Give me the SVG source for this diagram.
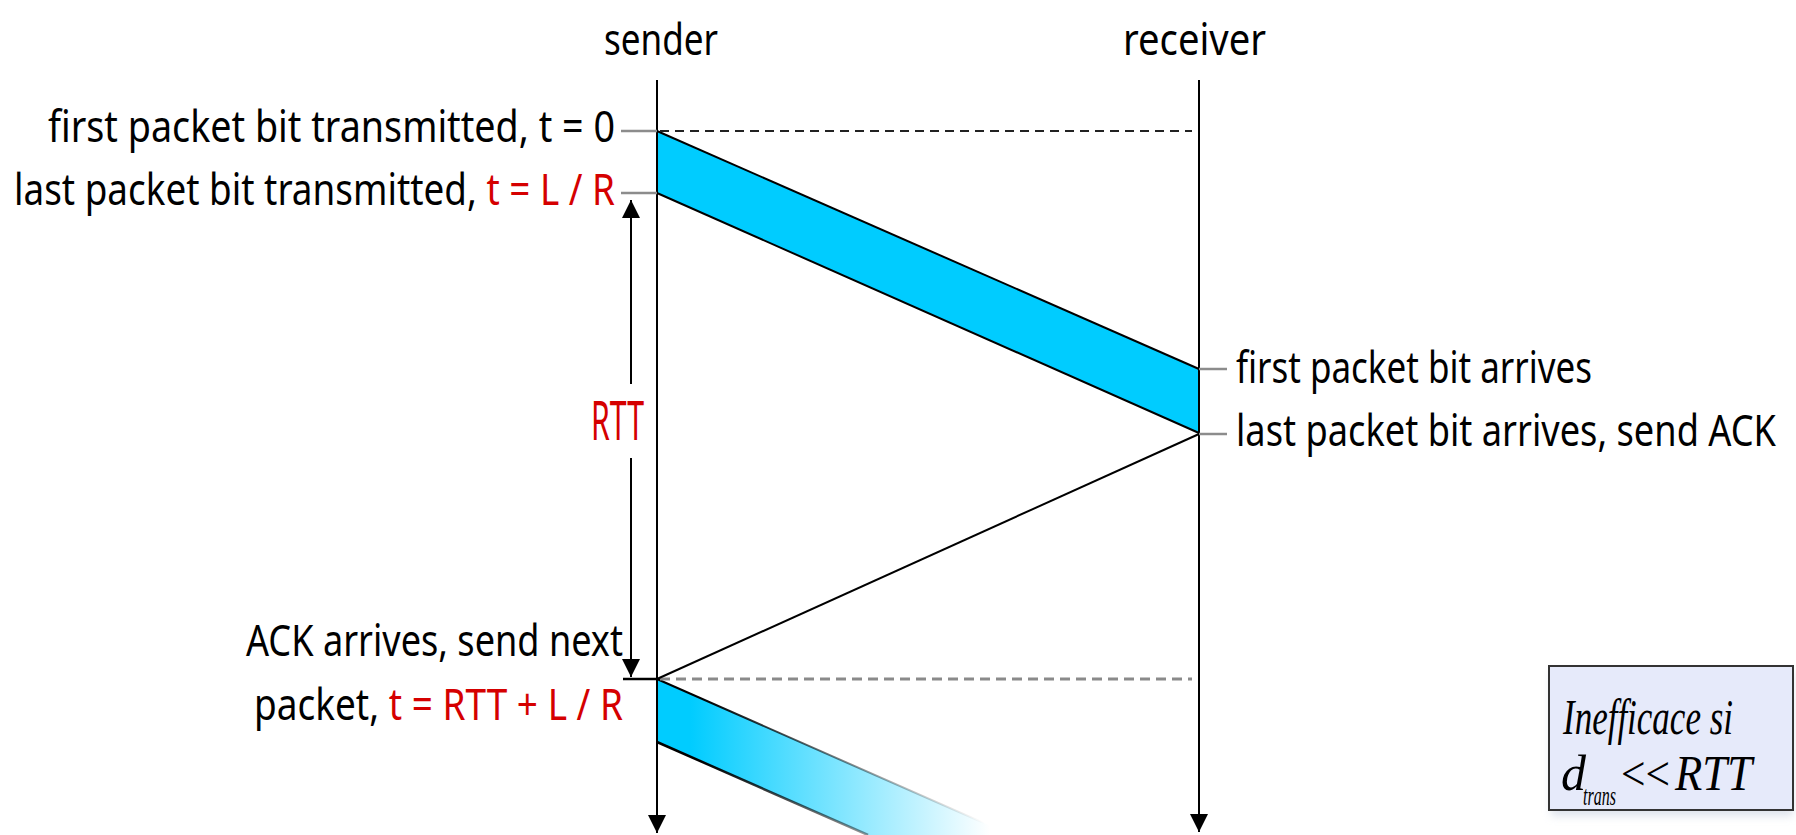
<svg xmlns="http://www.w3.org/2000/svg" width="1796" height="835" viewBox="0 0 1796 835">
  <style>
    .lbl { font-family: "Noto Sans", "DejaVu Sans", sans-serif; font-size: 44px; fill: #000; }
    .big { font-size: 54px; }
    .red { fill: #d50000; }
    .life { stroke: #000; stroke-width: 2; fill: none; }
    .tick { stroke: #8c8c8c; stroke-width: 2.5; }
    .edge { stroke: #000; stroke-width: 2; fill: none; }
    .math { font-family: "Liberation Serif", "DejaVu Serif", serif; font-style: italic; fill: #000; }
  </style>
  <defs>
    <marker id="arrow" viewBox="0 0 18 18" refX="18" refY="9" markerWidth="18" markerHeight="18" orient="auto" markerUnits="userSpaceOnUse">
      <path d="M0,0 L18,9 L0,18 z" fill="#000"/>
    </marker>
    <linearGradient id="fadeFill" gradientUnits="userSpaceOnUse" x1="690" y1="0" x2="990" y2="0">
      <stop offset="0" stop-color="#00ccff"/>
      <stop offset="1" stop-color="#ffffff"/>
    </linearGradient>
    <linearGradient id="fadeEdge" gradientUnits="userSpaceOnUse" x1="700" y1="0" x2="985" y2="0">
      <stop offset="0" stop-color="#000" stop-opacity="1"/>
      <stop offset="1" stop-color="#000" stop-opacity="0"/>
    </linearGradient>
    <filter id="soft" x="-10%" y="-10%" width="120%" height="140%">
      <feGaussianBlur stdDeviation="4"/>
    </filter>
  </defs>

  <rect width="1796" height="835" fill="#fff"/>

  <!-- first packet in flight -->
  <g id="packet1">
    <polygon points="657,131 1199,369 1199,433 657,193" fill="#00ccff"/>
    <line class="edge" x1="657" y1="131" x2="1199" y2="369"/>
    <line class="edge" x1="657" y1="193" x2="1199" y2="433"/>
  </g>

  <!-- next packet, fading out -->
  <g id="packet2">
    <polygon points="657,679 1011,835 868,835 657,742" fill="url(#fadeFill)"/>
    <line x1="657" y1="679" x2="1011" y2="835" stroke="url(#fadeEdge)" stroke-width="2"/>
    <line x1="657" y1="742" x2="868" y2="835" stroke="url(#fadeEdge)" stroke-width="2.5"/>
  </g>

  <g id="connectors">
    <!-- lifelines -->
    <line id="sender-line" class="life" x1="657" y1="80" x2="657" y2="833" marker-end="url(#arrow)"/>
    <line id="receiver-line" class="life" x1="1199" y1="80" x2="1199" y2="832" marker-end="url(#arrow)"/>
    <!-- time references -->
    <line x1="660" y1="131" x2="1192" y2="131" stroke="#222" stroke-width="2" stroke-dasharray="9 6"/>
    <line x1="660" y1="679" x2="1192" y2="679" stroke="#8a8a8a" stroke-width="3" stroke-dasharray="10 6"/>
    <!-- ACK back to sender -->
    <line class="edge" x1="1199" y1="434" x2="657" y2="679" stroke-width="1.8"/>
    <!-- ticks -->
    <line class="tick" x1="621" y1="131" x2="657" y2="131"/>
    <line class="tick" x1="621" y1="193" x2="657" y2="193"/>
    <line class="tick" x1="1199" y1="369" x2="1227" y2="369"/>
    <line class="tick" x1="1199" y1="434" x2="1227" y2="434"/>
    <line x1="623" y1="679" x2="657" y2="679" stroke="#000" stroke-width="2.5"/>
    <!-- RTT span -->
    <line class="life" x1="631" y1="384" x2="631" y2="200" marker-end="url(#arrow)"/>
    <line class="life" x1="631" y1="458" x2="631" y2="677" marker-end="url(#arrow)"/>
  </g>

  <g id="sender">
    <text class="lbl" x="604" y="55" textLength="114" lengthAdjust="spacingAndGlyphs">sender</text>
  </g>
  <g id="receiver">
    <text class="lbl" x="1123" y="55" textLength="143" lengthAdjust="spacingAndGlyphs">receiver</text>
  </g>

  <g id="sender-events">
    <text class="lbl" x="48" y="142" textLength="567" lengthAdjust="spacingAndGlyphs">first packet bit transmitted, t = 0</text>
    <text class="lbl" x="14" y="205" textLength="601" lengthAdjust="spacingAndGlyphs">last packet bit transmitted,<tspan class="red"> t = L / R</tspan></text>
    <text class="lbl" x="246" y="656" textLength="377" lengthAdjust="spacingAndGlyphs">ACK arrives, send next</text>
    <text class="lbl" x="254" y="720" textLength="369" lengthAdjust="spacingAndGlyphs">packet,<tspan class="red"> t = RTT + L / R</tspan></text>
  </g>

  <g id="receiver-events">
    <text class="lbl" x="1236" y="383" textLength="356" lengthAdjust="spacingAndGlyphs">first packet bit arrives</text>
    <text class="lbl" x="1236" y="446" textLength="540" lengthAdjust="spacingAndGlyphs">last packet bit arrives, send ACK</text>
  </g>

  <g id="rtt">
    <text class="lbl big red" x="591" y="440" textLength="53" lengthAdjust="spacingAndGlyphs">RTT</text>
  </g>

  <g id="note">
    <rect x="1551" y="672" width="242" height="144" fill="#c8d0e0" opacity="0.6" filter="url(#soft)"/>
    <rect x="1549" y="666" width="244" height="144" fill="#e6eafa" stroke="#333" stroke-width="2"/>
    <text class="math" x="1563" y="734" font-size="50" textLength="170" lengthAdjust="spacingAndGlyphs">Inefficace si</text>
    <text class="math" x="1561" y="790" font-size="50">d</text>
    <text class="math" x="1583" y="805" font-size="28" textLength="33" lengthAdjust="spacingAndGlyphs">trans</text>
    <text x="1621" y="790" font-family="Liberation Serif, DejaVu Serif, serif" font-size="48" textLength="49" lengthAdjust="spacingAndGlyphs">&lt;&lt;</text>
    <text class="math" x="1675" y="790" font-size="50" textLength="77" lengthAdjust="spacingAndGlyphs">RTT</text>
  </g>
</svg>
